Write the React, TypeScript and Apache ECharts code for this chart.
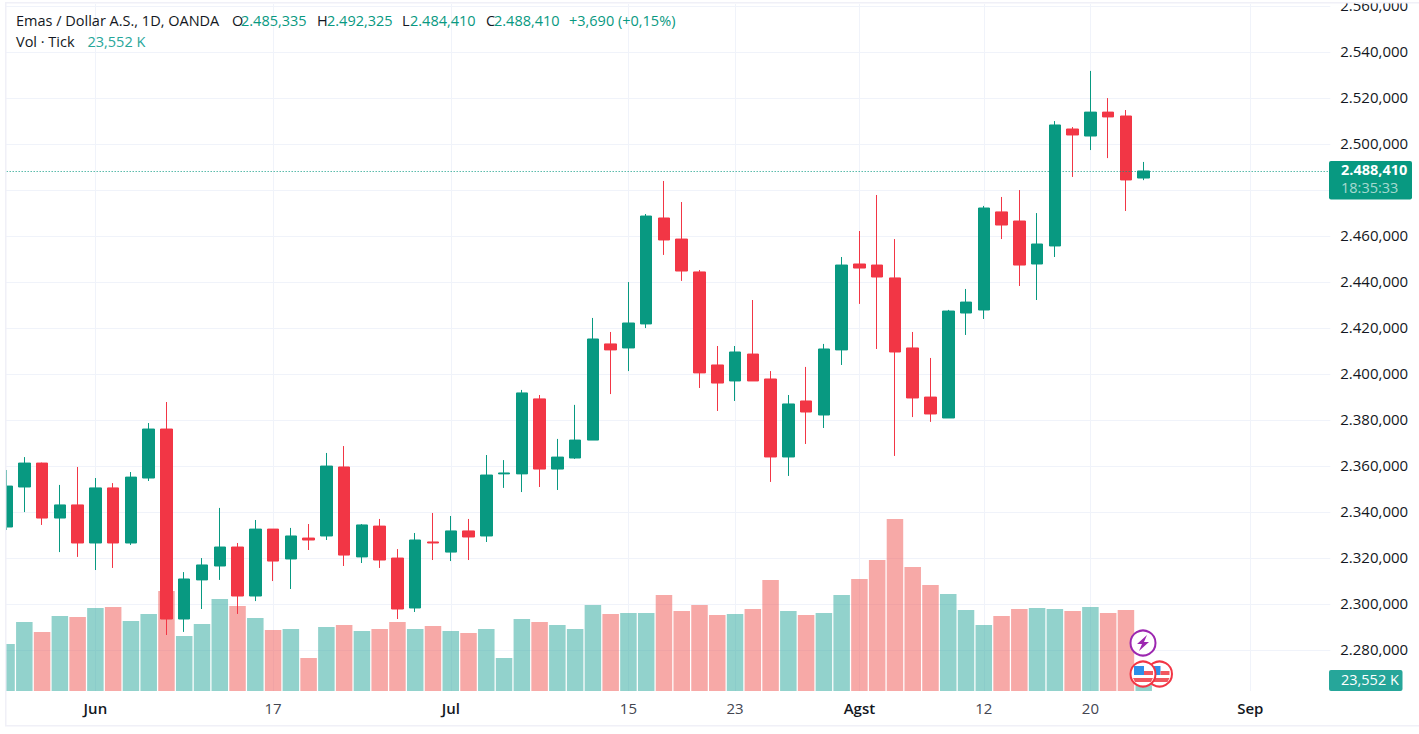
import React, { useEffect, useRef } from "react";
import * as echarts from "echarts";

const opens = [2333.6,2351.0,2361.4,2337.5,2343.2,2326.65,2350.6,2326.65,2354.9,2376.2,2293.6,2310.6,2316.65,2324.9,2303.6,2332.7,2319.7,2328.8,2329.7,2359.7,2320.6,2334.0,2320.1,2298.4,2327.1,2322.7,2331.9,2329.7,2356.7,2356.7,2389.3,2358.8,2363.6,2371.4,2413.2,2411.45,2421.9,2467.96,2458.8,2444.5,2404.05,2397.1,2408.8,2397.96,2364.05,2388.4,2382.3,2410.6,2447.96,2447.5,2441.9,2411.45,2390.1,2381.0,2426.65,2427.96,2470.6,2466.65,2447.96,2455.8,2506.65,2503.6,2514.0,2512.3,2485.335];
const closes = [2351.4,2361.4,2337.5,2343.2,2326.65,2350.6,2326.65,2355.3,2376.2,2293.6,2311.0,2317.1,2324.9,2303.6,2332.7,2318.8,2329.7,2327.95,2360.1,2321.4,2334.5,2319.25,2297.95,2327.95,2326.65,2331.9,2329.26,2356.2,2357.1,2391.9,2358.8,2364.0,2371.4,2415.35,2410.6,2422.3,2468.8,2458.4,2444.9,2400.6,2396.2,2409.7,2397.1,2364.05,2387.1,2383.6,2411.0,2447.5,2446.2,2442.3,2409.7,2389.7,2382.75,2427.5,2431.4,2472.3,2464.9,2447.5,2456.65,2508.4,2504.05,2514.0,2511.9,2484.5,2488.41];
const lows = [2332.3,2340.1,2334.5,2322.7,2320.6,2314.9,2315.8,2325.8,2353.6,2286.65,2288.0,2297.95,2310.6,2295.8,2301.4,2310.1,2306.65,2323.6,2327.95,2316.65,2317.95,2315.8,2293.6,2296.65,2319.25,2318.8,2319.25,2327.08,2350.6,2348.8,2351.0,2349.7,2363.2,2371.4,2391.4,2401.4,2420.1,2451.9,2440.6,2394.05,2384.05,2388.4,2397.1,2353.2,2355.8,2369.7,2376.65,2404.05,2430.6,2411.0,2364.5,2381.4,2379.3,2381.0,2417.1,2424.05,2458.8,2438.4,2432.3,2451.0,2485.8,2497.5,2494.0,2471.0,2484.41];
const highs = [2358.4,2364.0,2361.6,2351.9,2359.7,2354.9,2352.7,2357.5,2378.8,2387.95,2314.0,2320.1,2341.9,2326.65,2336.65,2332.7,2333.2,2334.9,2365.8,2368.8,2334.9,2337.1,2324.0,2331.0,2339.7,2338.4,2337.1,2364.9,2362.7,2393.2,2391.0,2371.9,2386.7,2424.5,2418.4,2440.1,2469.7,2484.05,2474.9,2445.35,2412.3,2412.3,2432.3,2401.4,2391.0,2403.2,2413.2,2451.0,2462.3,2477.96,2458.8,2418.4,2407.1,2428.0,2437.1,2473.2,2477.1,2480.1,2470.1,2510.1,2507.5,2531.9,2520.1,2514.9,2492.325];
const volumes = [188,276,236,300,296,332,336,280,308,400,220,268,368,340,292,244,248,132,256,264,240,248,276,248,260,240,232,248,132,288,276,264,248,344,308,312,312,384,320,344,304,308,328,444,320,304,312,384,448,524,688,496,424,388,324,264,300,328,332,328,320,336,312,324,23.552];
const tickIndexes = [5,15,25,35,41,48,55,61,70];
const tickLabels = ["Jun","17","Jul","15","23","Agst","12","20","Sep"];
const monthLabels = ["Jun","Jul","Agst","Sep"];
const priceTicks = [2280,2300,2320,2340,2360,2380,2400,2420,2440,2460,2480,2500,2520,2540,2560];
const priceLabelTicks = [2280,2300,2320,2340,2360,2380,2400,2420,2440,2460,2500,2520,2540,2560];
const lastPrice = 2488.41;
const categories = Array.from({ length: 75 }, (_, i) => String(i));

const UP = "#089981";
const DOWN = "#f23645";
const VOL_UP = "rgba(38,166,154,0.5)";
const VOL_DOWN = "rgba(239,83,80,0.5)";
const GRID = "#f0f3fa";
const FRAME = "#f0f0f7";
const FONT = "'Open Sans', Roboto, sans-serif";
const DARK = "#131722";
const SHIFT = 10;

const fmtPrice = (v: number) => `{p|${Math.floor(v / 1000)}.${String(Math.round(v) % 1000).padStart(3, "0")},000}`;

const txt = (text: string, x: number, y: number, fill: string, size = 14.5, weight: any = "normal") => ({
  type: "text", z: 30, silent: true,
  style: { text, x, y: y - 1.5, fill, font: `${weight} ${size}px ${FONT}`, textAlign: "left", textVerticalAlign: "middle" },
});

const flag = (cx: number, cy: number, z: number) => ({
  type: "group", x: cx, y: cy, silent: true,
  children: [
    { type: "circle", z, shape: { cx: 0, cy: 0, r: 12.5 }, style: { fill: "#fff", stroke: "#f23645", lineWidth: 2 } },
    { type: "rect", z: z + 1, shape: { x: -9, y: -8, width: 10, height: 9 }, style: { fill: "#2f8fe8" } },
    { type: "rect", z: z + 1, shape: { x: 1, y: -3, width: 9, height: 4 }, style: { fill: "#f2565f" } },
    { type: "polygon", z: z + 1, shape: { points: [[-10, 4], [10, 4], [8, 8], [-8, 8]] }, style: { fill: "#f2565f" } },
  ],
});

export default function App() {
  const ref = useRef<HTMLDivElement>(null);
  useEffect(() => {
    const chart = echarts.init(ref.current!, null, { renderer: "svg" });
    chart.setOption({
      animation: false,
      backgroundColor: "#fff",
      textStyle: { fontFamily: FONT },
      grid: [
        { left: SHIFT - 2.33, right: 88.73, top: 4, bottom: 43, outerBoundsMode: "none" },
        { left: SHIFT - 2.33, right: 88.73, top: 491, bottom: 43, outerBoundsMode: "none" },
      ],
      xAxis: [
        {
          type: "category", gridIndex: 0, data: categories, boundaryGap: true,
          axisLine: { show: false },
          axisTick: { show: false, alignWithLabel: true, interval: (i: number) => tickIndexes.includes(i) },
          splitLine: { show: true, alignWithLabel: true, interval: (i: number) => tickIndexes.includes(i), lineStyle: { color: GRID, width: 1 } },
          axisLabel: {
            margin: 9,
            interval: (i: number) => tickIndexes.includes(i),
            formatter: (_v: string, i: number) => {
              const label = tickLabels[tickIndexes.indexOf(i)] ?? "";
              return monthLabels.includes(label) ? `{m|${label}}` : `{d|${label}}`;
            },
            rich: {
              m: { fontSize: 15, fontWeight: 600, color: DARK, fontFamily: FONT },
              d: { fontSize: 15, color: "#434651", fontFamily: FONT },
            },
          },
        },
        { type: "category", gridIndex: 1, data: categories, boundaryGap: true, show: false },
      ],
      yAxis: [
        {
          type: "value", gridIndex: 0, position: "right", min: 2262.3, max: 2561, scale: true,
          axisLine: { show: false },
          axisTick: { show: false, customValues: priceTicks },
          splitLine: { show: true, lineStyle: { color: GRID, width: 1 } },
          axisLabel: {
            customValues: priceLabelTicks, margin: 10, formatter: fmtPrice,
            rich: { p: { color: DARK, fontSize: 15, fontFamily: FONT, padding: [0, 0, 2, 0] } },
          },
        },
        { type: "value", gridIndex: 1, min: 0, max: 800, show: false, splitLine: { show: false } },
      ],
      series: [
        {
          type: "bar", xAxisIndex: 1, yAxisIndex: 1, z: 1, barWidth: 16.5, data: volumes,
          itemStyle: { color: (p: any) => (closes[p.dataIndex] >= opens[p.dataIndex] ? VOL_UP : VOL_DOWN) },
        },
        {
          type: "candlestick", xAxisIndex: 0, yAxisIndex: 0, z: 2, barWidth: 12,
          data: opens.map((o, i) => [o, closes[i], lows[i], highs[i]]),
          itemStyle: { color: UP, color0: DOWN, borderColor: UP, borderColor0: DOWN, borderWidth: 1 },
          markLine: {
            silent: true, symbol: "none", animation: false,
            label: { show: false },
            lineStyle: { color: UP, type: [1, 2], width: 1 },
            data: [{ yAxis: lastPrice }],
          },
        },
      ],
      graphic: [{
        type: "group", x: SHIFT, y: 0,
        children: [
          { type: "rect", z: 20, silent: true, shape: { x: -SHIFT, y: 0, width: 1429, height: 2 }, style: { fill: "#fff" } },
          { type: "rect", z: 20, silent: true, shape: { x: -SHIFT, y: 2, width: 1429, height: 1.5 }, style: { fill: FRAME } },
          { type: "rect", z: 20, silent: true, shape: { x: -SHIFT, y: 0, width: SHIFT + 5, height: 734 }, style: { fill: "#fff" } },
          { type: "rect", z: 20, silent: true, shape: { x: 5, y: 2, width: 1.5, height: 724 }, style: { fill: FRAME } },
          { type: "rect", z: 20, silent: true, shape: { x: 5, y: 725, width: 1414, height: 1.5 }, style: { fill: FRAME } },
          txt("Emas / Dollar A.S., 1D, OANDA", 16, 22, DARK),
          txt("O", 232, 22, DARK), txt("2.485,335", 241, 22, UP),
          txt("H", 317, 22, DARK), txt("2.492,325", 327, 22, UP),
          txt("L", 402, 22, DARK), txt("2.484,410", 410, 22, UP),
          txt("C", 486, 22, DARK), txt("2.488,410", 494, 22, UP),
          txt("+3,690 (+0,15%)", 569, 22, UP),
          txt("Vol · Tick", 16, 43, DARK),
          txt("23,552 K", 87.5, 43, "#26a69a"),
          { type: "rect", z: 25, silent: true, shape: { x: 1329, y: 161, width: 83, height: 38.5, r: 2 }, style: { fill: UP } },
          txt("2.488,410", 1341, 171, "#fff", 14.5, "bold"),
          txt("18:35:33", 1341, 189, "rgba(255,255,255,0.65)", 14.5),
          { type: "rect", z: 25, silent: true, shape: { x: 1329, y: 670, width: 73.5, height: 21, r: 2 }, style: { fill: "#26a69a" } },
          txt("23,552 K", 1341, 680.5, "#fff", 14.5),
          flag(1159.5, 674, 31),
          flag(1143, 674, 33),
          {
            type: "group", x: 1143, y: 643, silent: true,
            children: [
              { type: "circle", z: 31, shape: { cx: 0, cy: 0, r: 12.5 }, style: { fill: "#fff", stroke: "#9c27b0", lineWidth: 2 } },
              { type: "polygon", z: 32, shape: { points: [[4, -8], [-6, 1], [-1, 1], [-4, 8], [6, -1], [1, -1]] }, style: { fill: "#9c27b0" } },
            ],
          },
        ],
      }],
    });
    return () => chart.dispose();
  }, []);
  return <div ref={ref} style={{ position: "absolute", left: -SHIFT, top: 0, width: 1429, height: 734, background: "#fff" }} />;
}
